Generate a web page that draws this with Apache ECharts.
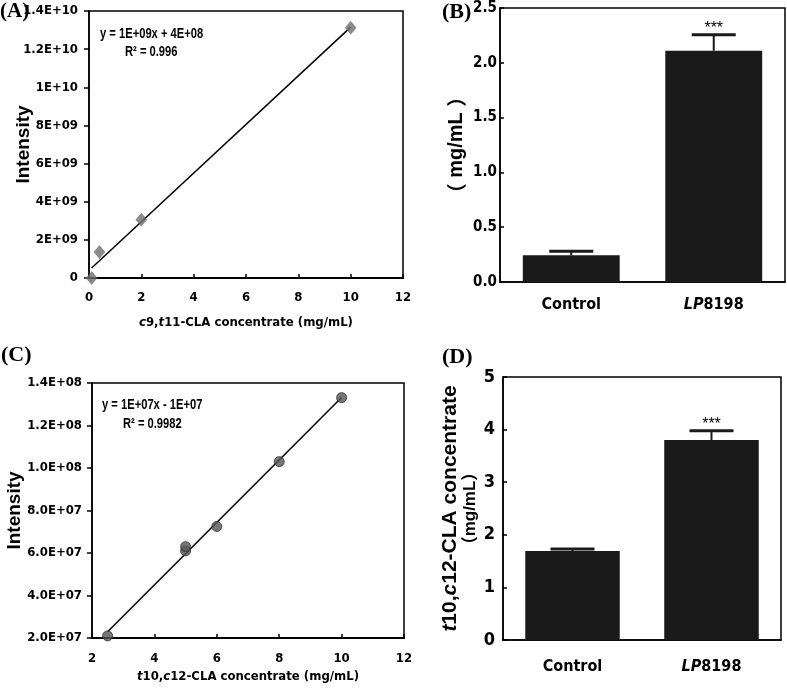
<!DOCTYPE html>
<html><head><meta charset="utf-8">
<script src="https://cdn.jsdelivr.net/npm/echarts@6/dist/echarts.min.js"></script>
<style>html,body{margin:0;padding:0;background:#fff}#c{width:787px;height:695px}</style>
</head><body><div id="c"></div>
<script>
// ---- Panel A data ----
const aX = [0.1, 0.4, 2, 10];
const aY = [0, 1.36e9, 3.05e9, 1.312e10];
const aXTicks = ['0', '2', '4', '6', '8', '10', '12'];
const aYTicks = ['0', '2E+09', '4E+09', '6E+09', '8E+09', '1E+10', '1.2E+10', '1.4E+10'];
const aEq = ['y = 1E+09x + 4E+08', 'R² = 0.996'];
// ---- Panel B data ----
const bCats = ['Control', 'LP8198'];
const bMean = [0.244, 2.11];
const bErr = [0.036, 0.145];
const bSig = ['', '***'];
const bYTicks = ['0.0', '0.5', '1.0', '1.5', '2.0', '2.5'];
// ---- Panel C data ----
const cX = [2.5, 5, 5, 6, 8, 10];
const cY = [2.1e7, 6.1e7, 6.3e7, 7.25e7, 1.03e8, 1.331e8];
const cXTicks = ['2', '4', '6', '8', '10', '12'];
const cYTicks = ['2.0E+07', '4.0E+07', '6.0E+07', '8.0E+07', '1.0E+08', '1.2E+08', '1.4E+08'];
const cEq = ['y = 1E+07x - 1E+07', 'R² = 0.9982'];
// ---- Panel D data ----
const dCats = ['Control', 'LP8198'];
const dMean = [1.69, 3.80];
const dErr = [0.04, 0.18];
const dSig = ['', '***'];
const dYTicks = ['0', '1', '2', '3', '4', '5'];

const NARROW = "'Liberation Sans Narrow','Arial Narrow','DejaVu Sans Condensed',sans-serif";
const SANS = "'Liberation Sans',Arial,sans-serif";
const CJK = "'Noto Sans CJK SC',sans-serif";
const SERIF = "'Liberation Serif','Times New Roman',serif";

function fit(xs, ys) {
  const n = xs.length;
  const mx = xs.reduce((a, b) => a + b, 0) / n;
  const my = ys.reduce((a, b) => a + b, 0) / n;
  let sxx = 0, sxy = 0;
  for (let i = 0; i < n; i++) { sxx += (xs[i] - mx) ** 2; sxy += (xs[i] - mx) * (ys[i] - my); }
  const k = sxy / sxx, b = my - k * mx;
  const x0 = Math.min(...xs), x1 = Math.max(...xs);
  return [[x0, k * x0 + b], [x1, k * x1 + b]];
}
function tickFmt(ticks, min, step) {
  return v => { const i = Math.round((v - min) / step); return ticks[i] !== undefined ? ticks[i] : ''; };
}
function pairs(xs, ys) { return xs.map((x, i) => [x, ys[i]]); }

const axisLine = { show: true, lineStyle: { color: '#000', width: 1.5 } };
const tickOut = { show: true, inside: false, length: 5, lineStyle: { color: '#000', width: 1.5 } };
const tickIn = { show: true, inside: true, length: 4, lineStyle: { color: '#000', width: 1.5 } };

function errSeries(xIdx, yIdx, mean, err, sig) {
  return {
    type: 'custom', xAxisIndex: xIdx, yAxisIndex: yIdx, z: 5,
    data: mean.map((m, i) => [i, m, err[i]]),
    renderItem: function (params, api) {
      const i = api.value(0), v = api.value(1), e = api.value(2);
      const base = api.coord([i, v]);
      const top = api.coord([i, v + e]);
      const hw = 22;
      const ch = [
        { type: 'line', shape: { x1: top[0], y1: base[1], x2: top[0], y2: top[1] }, style: { stroke: '#1a1a1a', lineWidth: 2 } },
        { type: 'line', shape: { x1: top[0] - hw, y1: top[1], x2: top[0] + hw, y2: top[1] }, style: { stroke: '#1a1a1a', lineWidth: 3 } }
      ];
      const s = sig[params.dataIndex];
      if (s) ch.push({ type: 'text', x: top[0], y: top[1] + 2, style: { text: s, textAlign: 'center', textVerticalAlign: 'bottom', font: '16px ' + SANS, fill: '#000' } });
      return { type: 'group', children: ch };
    }
  };
}

const catFmt = v => v.indexOf('LP') === 0 ? '{i|LP}{n|' + v.slice(2) + '}' : '{n|' + v + '}';
function catRich(size) {
  return { n: { fontFamily: NARROW, fontWeight: 'bold', fontSize: size, color: '#000' },
           i: { fontFamily: NARROW, fontWeight: 'bold', fontStyle: 'italic', fontSize: size, color: '#000' } };
}
function nameRich(size, fam, psize) {
  return { n: { fontFamily: fam, fontWeight: 'bold', fontSize: size, color: '#000' },
           i: { fontFamily: fam, fontWeight: 'bold', fontStyle: 'italic', fontSize: size, color: '#000' },
           p: { fontFamily: CJK, fontWeight: 'bold', fontSize: psize, color: '#000' },
           s: { fontFamily: SANS, fontWeight: 'bold', fontSize: psize, color: '#000' } };
}
const gridBox = { show: true, borderColor: '#000', borderWidth: 1.5, backgroundColor: 'transparent' };

const option = {
  animation: false,
  backgroundColor: '#fff',
  grid: [
    Object.assign({ left: 89, top: 11, width: 314, height: 267 }, gridBox),
    Object.assign({ left: 500, top: 8, width: 285, height: 274 }, gridBox),
    Object.assign({ left: 92, top: 383, width: 312, height: 255 }, gridBox),
    Object.assign({ left: 503, top: 377, width: 278, height: 263 }, gridBox)
  ],
  xAxis: [
    { gridIndex: 0, type: 'value', min: 0, max: 12, interval: 2, axisLine: { show: true, lineStyle: { color: '#000', width: 2 } }, axisTick: tickIn, splitLine: { show: false },
      axisLabel: { formatter: tickFmt(aXTicks, 0, 2), fontFamily: NARROW, fontWeight: 'bold', fontSize: 13, color: '#000', margin: 13 },
      name: '{i|c}{n|9,}{i|t}{n|11-CLA concentrate (mg/mL)}', nameLocation: 'middle', nameGap: 38, nameMoveOverlap: false,
      nameTextStyle: { rich: nameRich(13, NARROW, 13) } },
    { gridIndex: 1, type: 'category', data: bCats, axisLine, axisTick: { show: false },
      axisLabel: { formatter: catFmt, rich: catRich(16), margin: 15 } },
    { gridIndex: 2, type: 'value', min: 2, max: 12, interval: 2, axisLine: { show: true, lineStyle: { color: '#000', width: 2 } }, axisTick: tickIn, splitLine: { show: false },
      axisLabel: { formatter: tickFmt(cXTicks, 2, 2), fontFamily: NARROW, fontWeight: 'bold', fontSize: 13, color: '#000', margin: 14 },
      name: '{i|t}{n|10,}{i|c}{n|12-CLA concentrate (mg/mL)}', nameLocation: 'middle', nameGap: 32, nameMoveOverlap: false,
      nameTextStyle: { rich: nameRich(13, NARROW, 13) } },
    { gridIndex: 3, type: 'category', data: dCats, axisLine, axisTick: { show: false },
      axisLabel: { formatter: catFmt, rich: catRich(16), margin: 19 } }
  ],
  yAxis: [
    { gridIndex: 0, type: 'value', min: 0, max: 1.4e10, interval: 2e9, axisLine, axisTick: tickOut, splitLine: { show: false },
      axisLabel: { formatter: tickFmt(aYTicks, 0, 2e9), fontFamily: NARROW, fontWeight: 'bold', fontSize: 13, color: '#000', margin: 11 },
      name: 'Intensity', nameLocation: 'middle', nameGap: 56, nameRotate: 90, nameMoveOverlap: false,
      nameTextStyle: { fontFamily: SANS, fontWeight: 'bold', fontSize: 19, color: '#000' } },
    { gridIndex: 1, type: 'value', min: 0, max: 2.5, interval: 0.5, axisLine, axisTick: tickIn, splitLine: { show: false },
      axisLabel: { formatter: tickFmt(bYTicks, 0, 0.5), fontFamily: NARROW, fontWeight: 'bold', fontSize: 15, color: '#000', margin: 3 },
      name: '{p|（}{s| mg/mL }{p|）}', nameLocation: 'middle', nameGap: 34, nameRotate: 90, nameMoveOverlap: false,
      nameTextStyle: { rich: nameRich(20, SANS, 20) } },
    { gridIndex: 2, type: 'value', min: 2e7, max: 1.4e8, interval: 2e7, axisLine, axisTick: tickOut, splitLine: { show: false },
      axisLabel: { formatter: tickFmt(cYTicks, 2e7, 2e7), fontFamily: NARROW, fontWeight: 'bold', fontSize: 13, color: '#000', margin: 10 },
      name: 'Intensity', nameLocation: 'middle', nameGap: 68, nameRotate: 90, nameMoveOverlap: false,
      nameTextStyle: { fontFamily: SANS, fontWeight: 'bold', fontSize: 19, color: '#000' } },
    { gridIndex: 3, type: 'value', min: 0, max: 5, interval: 1, axisLine, axisTick: tickIn, splitLine: { show: false },
      axisLabel: { formatter: tickFmt(dYTicks, 0, 1), fontFamily: NARROW, fontWeight: 'bold', fontSize: 18, color: '#000', margin: 8 },
      name: '{i|t}{n|10,}{i|c}{n|12-CLA concentrate}\n{p|（}{s|mg/mL}{p|）}', nameLocation: 'middle', nameGap: 23, nameRotate: 90, nameMoveOverlap: false,
      nameTextStyle: { rich: nameRich(21, SANS, 17), lineHeight: 20 } }
  ],
  series: [
    { type: 'line', xAxisIndex: 0, yAxisIndex: 0, data: fit(aX, aY), symbol: 'none', lineStyle: { color: '#000', width: 1.5 }, z: 3 },
    { type: 'scatter', xAxisIndex: 0, yAxisIndex: 0, data: pairs(aX, aY), symbol: 'diamond', symbolSize: [11, 13],
      itemStyle: { color: '#6e6e6e', borderColor: '#5a5a5a', borderWidth: 0.5 }, z: 4 },
    { type: 'bar', xAxisIndex: 1, yAxisIndex: 1, data: bMean, barWidth: '68%', itemStyle: { color: '#1a1a1a' } },
    errSeries(1, 1, bMean, bErr, bSig),
    { type: 'line', xAxisIndex: 2, yAxisIndex: 2, data: fit(cX, cY), symbol: 'none', lineStyle: { color: '#000', width: 1.5 }, z: 3 },
    { type: 'scatter', xAxisIndex: 2, yAxisIndex: 2, data: pairs(cX, cY), symbol: 'circle', symbolSize: 10,
      itemStyle: { color: '#555', borderColor: '#333', borderWidth: 1 }, z: 4 },
    { type: 'bar', xAxisIndex: 3, yAxisIndex: 3, data: dMean, barWidth: '68%', itemStyle: { color: '#1a1a1a' } },
    errSeries(3, 3, dMean, dErr, dSig)
  ],
  graphic: [
    { type: 'text', left: 0, top: 1, style: { text: '(A)', font: 'bold 21px ' + SERIF, fill: '#000' } },
    { type: 'text', left: 442, top: 1, style: { text: '(B)', font: 'bold 22px ' + SERIF, fill: '#000' } },
    { type: 'text', left: 1, top: 344, style: { text: '(C)', font: 'bold 22px ' + SERIF, fill: '#000' } },
    { type: 'text', left: 442, top: 346, style: { text: '(D)', font: 'bold 22px ' + SERIF, fill: '#000' } },
    { type: 'text', x: 100, y: 34, scaleX: 0.86, scaleY: 1.15, style: { text: aEq[0], font: 'bold 13px ' + SANS, fill: '#000', textVerticalAlign: 'middle' } },
    { type: 'text', x: 125, y: 52, scaleX: 0.86, scaleY: 1.15, style: { text: aEq[1], font: 'bold 13px ' + SANS, fill: '#000', textVerticalAlign: 'middle' } },
    { type: 'text', x: 102, y: 405, scaleX: 0.86, scaleY: 1.15, style: { text: cEq[0], font: 'bold 13px ' + SANS, fill: '#000', textVerticalAlign: 'middle' } },
    { type: 'text', x: 123, y: 424, scaleX: 0.86, scaleY: 1.15, style: { text: cEq[1], font: 'bold 13px ' + SANS, fill: '#000', textVerticalAlign: 'middle' } }
  ]
};
echarts.init(document.getElementById('c')).setOption(option);
</script></body></html>
